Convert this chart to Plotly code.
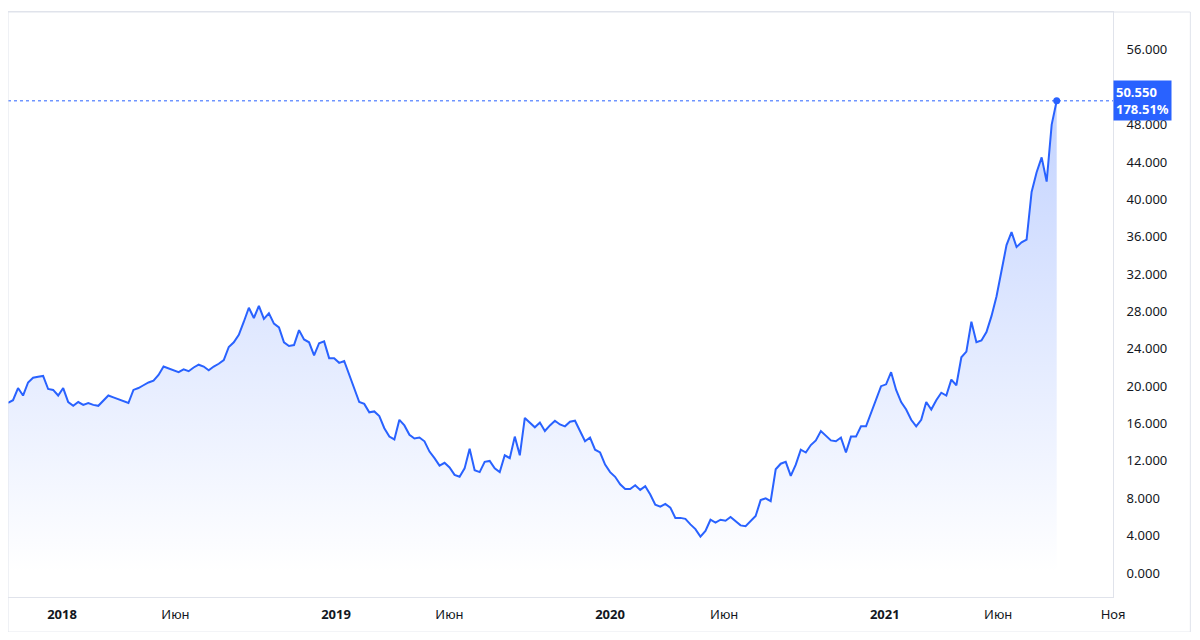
import pandas as pd
import plotly.graph_objects as go

start_date = "2017-10-21"
end_date = "2021-08-18"
values = [18.2, 18.5, 19.8, 19.0, 20.4, 20.9, 21.0, 21.1, 19.7, 19.6, 19.0, 19.8, 18.3, 17.9, 18.3, 18.0,
          18.2, 18.0, 17.9, 18.5, 19.0, 18.8, 18.6, 18.4, 18.2, 19.6, 19.8, 20.1, 20.4, 20.6, 21.2, 22.1,
          21.9, 21.7, 21.5, 21.8, 21.6, 22.0, 22.3, 22.1, 21.7, 22.1, 22.4, 22.8, 24.2, 24.7, 25.5, 26.9,
          28.4, 27.3, 28.6, 27.2, 27.8, 26.7, 26.3, 24.7, 24.3, 24.4, 26.0, 25.0, 24.7, 23.3, 24.6, 24.8,
          23.0, 23.0, 22.5, 22.7, 21.2, 19.6, 18.3, 18.1, 17.2, 17.3, 16.8, 15.5, 14.6, 14.3, 16.4, 15.8,
          14.8, 14.4, 14.5, 14.1, 13.0, 12.3, 11.5, 11.8, 11.3, 10.5, 10.3, 11.2, 13.3, 11.0, 10.8, 11.9,
          12.0, 11.2, 10.8, 12.6, 12.3, 14.6, 12.6, 16.6, 16.1, 15.6, 16.1, 15.2, 15.8, 16.3, 15.9, 15.7,
          16.2, 16.3, 15.2, 14.1, 14.5, 13.2, 12.9, 11.6, 10.8, 10.3, 9.5, 9.0, 9.0, 9.4, 8.9, 9.3, 8.4,
          7.3, 7.1, 7.4, 7.0, 5.9, 5.9, 5.8, 5.2, 4.7, 3.9, 4.5, 5.7, 5.4, 5.7, 5.6, 6.0, 5.5, 5.1, 5.0,
          5.5, 6.1, 7.8, 8.0, 7.7, 11.1, 11.7, 11.9, 10.4, 11.6, 13.2, 12.9, 13.7, 14.2, 15.2, 14.7, 14.2,
          14.1, 14.5, 12.9, 14.6, 14.6, 15.7, 15.7, 17.2, 18.7, 20.0, 20.2, 21.5, 19.6, 18.3, 17.5, 16.4,
          15.7, 16.4, 18.3, 17.5, 18.5, 19.3, 19.0, 20.7, 20.1, 23.1, 23.7, 26.9, 24.7, 24.9, 25.8, 27.5,
          29.6, 32.4, 35.1, 36.5, 34.9, 35.4, 35.7, 40.8, 42.9, 44.5, 41.9, 48.0, 50.55]
dates = pd.date_range(start_date, end_date, periods=len(values))

tick_dates = ["2018-01-01", "2018-06-01", "2019-01-01", "2019-06-01", "2020-01-01",
              "2020-06-01", "2021-01-01", "2021-06-01", "2021-11-01"]
tick_text = ["<b>2018</b>", "Июн", "<b>2019</b>", "Июн", "<b>2020</b>", "Июн", "<b>2021</b>", "Июн", "Ноя"]
y_ticks = list(range(0, 57, 4))

blue = "#2962FF"
fig = go.Figure()
fig.add_trace(go.Scatter(
    x=dates, y=values, mode="lines", line=dict(color=blue, width=2),
    fill="tozeroy",
    fillgradient=dict(type="vertical",
                      colorscale=[[0, "rgba(41,98,255,0.0)"], [1, "rgba(41,98,255,0.28)"]]),
    hoverinfo="skip"))
fig.add_trace(go.Scatter(x=[dates[-1]], y=[values[-1]], mode="markers",
                         marker=dict(color=blue, size=7), hoverinfo="skip"))
fig.add_hline(y=values[-1], line=dict(color=blue, width=1, dash="dot"))

fig.add_annotation(x=1.0, xref="paper", xanchor="left", y=values[-1], yref="y",
                   text="<b>%.3f<br>178.51%%</b>" % values[-1], showarrow=False,
                   bgcolor=blue, font=dict(color="white", size=13), align="left",
                   borderpad=2, xshift=0)

fig.update_layout(
    width=1184, height=624, showlegend=False,
    paper_bgcolor="white", plot_bgcolor="white",
    margin=dict(l=0, r=79, t=4, b=35),
    font=dict(family="Noto Sans", size=13, color="#131722"),
    xaxis=dict(range=["2017-10-21", "2021-11-01"], tickvals=tick_dates, ticktext=tick_text,
               showgrid=False, zeroline=False, showline=True, linecolor="#e0e3eb",
               mirror=True, ticks="", ticklabelstandoff=5),
    yaxis=dict(side="right", range=[-2.57, 60.06], tickvals=y_ticks, tickformat=".3f",
               showgrid=False, zeroline=False, showline=True, linecolor="#e0e3eb",
               mirror=True, ticks="", ticklabelstandoff=10),
)
fig.add_shape(type="rect", xref="paper", yref="paper", x0=0, x1=1.07, y0=-0.06, y1=1,
              line=dict(color="#e0e3eb", width=1))
fig.write_html("out.html")
